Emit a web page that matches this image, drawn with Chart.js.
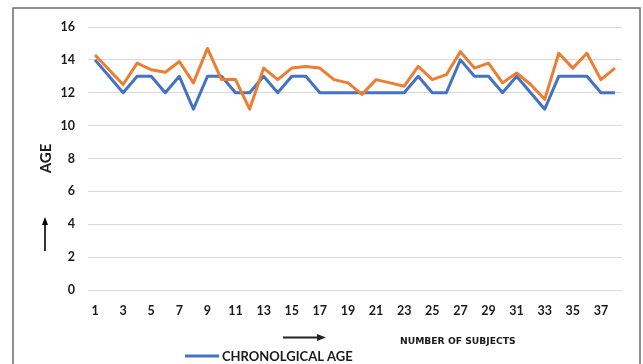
<!DOCTYPE html>
<html>
<head>
<meta charset="utf-8">
<script src="https://cdn.jsdelivr.net/npm/chart.js@4/dist/chart.umd.min.js"></script>
<style>
  html, body { margin: 0; padding: 0; background: #ffffff; overflow: hidden; }
  #wrap { position: absolute; left: 0; top: 0; width: 643px; height: 364px; }
</style>
</head>
<body>
<div id="wrap"><canvas id="c"></canvas></div>
<script>
// Subject numbers along the x axis
const subjects = Array.from({ length: 38 }, (_, i) => String(i + 1));

// Chronological age of each subject (years)
const chronologicalAge = [14, 13, 12, 13, 13, 12, 13, 11, 13, 13, 12, 12, 13, 12, 13, 13, 12, 12, 12,
                          12, 12, 12, 12, 13, 12, 12, 14, 13, 13, 12, 13, 12, 11, 13, 13, 13, 12, 12];

// Estimated age of each subject (years)
const estimatedAge = [14.3, 13.4, 12.5, 13.8, 13.4, 13.25, 13.9, 12.6, 14.7, 12.8, 12.8, 11.0, 13.5,
                      12.8, 13.5, 13.6, 13.5, 12.8, 12.6, 11.9, 12.8, 12.6, 12.4, 13.6, 12.8, 13.1,
                      14.5, 13.5, 13.8, 12.6, 13.2, 12.5, 11.6, 14.4, 13.5, 14.4, 12.8, 13.5];

// Y axis range
const yMin = 0, yMax = 16, yStep = 2;

const BLUE = '#4472C4';
const ORANGE = '#ED7D31';
const FONT = "Lato, 'Open Sans', sans-serif";

// Frame, axis arrows, axis caption and legend drawn over the chart
const decorations = {
  id: 'decorations',
  afterDraw(chart) {
    const ctx = chart.ctx;
    ctx.save();

    // outer frame
    ctx.strokeStyle = '#6b6b6b';
    ctx.lineWidth = 1.5;
    ctx.strokeRect(13, 8, 627, 400);

    ctx.fillStyle = '#000000';
    ctx.strokeStyle = '#000000';
    ctx.lineWidth = 1.6;

    // upward arrow next to the y title
    ctx.beginPath();
    ctx.moveTo(45, 251);
    ctx.lineTo(45, 224);
    ctx.stroke();
    ctx.beginPath();
    ctx.moveTo(45, 217);
    ctx.lineTo(42, 225);
    ctx.lineTo(48, 225);
    ctx.closePath();
    ctx.fill();

    // rightward arrow under the x axis
    ctx.strokeStyle = '#222222';
    ctx.fillStyle = '#222222';
    ctx.lineWidth = 2;
    ctx.beginPath();
    ctx.moveTo(283, 337.5);
    ctx.lineTo(318, 337.5);
    ctx.stroke();
    ctx.beginPath();
    ctx.moveTo(326, 337.5);
    ctx.lineTo(317, 334);
    ctx.lineTo(317, 341);
    ctx.closePath();
    ctx.fill();

    // x axis caption, slightly widened
    ctx.save();
    ctx.translate(400, 341.5);
    ctx.scale(1.15, 1);
    ctx.fillStyle = '#1a1a1a';
    ctx.font = "bold 8px 'DejaVu Sans', sans-serif";
    ctx.textBaseline = 'middle';
    ctx.textAlign = 'left';
    ctx.fillText('NUMBER OF SUBJECTS', 0, 0);
    ctx.restore();

    // legend entry for the first series
    const ds = chart.data.datasets[0];
    ctx.strokeStyle = ds.borderColor;
    ctx.lineWidth = 3;
    ctx.beginPath();
    ctx.moveTo(185, 356);
    ctx.lineTo(219, 356);
    ctx.stroke();
    ctx.fillStyle = '#1a1a1a';
    ctx.font = 'bold 13px ' + FONT;
    ctx.textBaseline = 'middle';
    ctx.textAlign = 'left';
    ctx.fillText(ds.label, 222, 356.5);

    ctx.restore();
  }
};

new Chart(document.getElementById('c'), {
  type: 'line',
  data: {
    labels: subjects,
    datasets: [
      {
        label: 'CHRONOLGICAL AGE',
        data: chronologicalAge,
        borderColor: BLUE,
        backgroundColor: BLUE,
        borderWidth: 3,
        pointRadius: 0,
        tension: 0,
        borderJoinStyle: 'round',
        order: 1
      },
      {
        label: 'ESTIMATED AGE',
        data: estimatedAge,
        borderColor: ORANGE,
        backgroundColor: ORANGE,
        borderWidth: 3,
        pointRadius: 0,
        tension: 0,
        borderJoinStyle: 'round',
        order: 0
      }
    ]
  },
  options: {
    responsive: true,
    maintainAspectRatio: false,
    animation: false,
    devicePixelRatio: 1,
    layout: { padding: { left: 0, right: 21, top: 27, bottom: 0 } },
    plugins: {
      legend: { display: false },
      tooltip: { enabled: false },
      title: { display: false }
    },
    scales: {
      x: {
        offset: true,
        grid: { display: false, drawTicks: false },
        border: { display: false },
        ticks: {
          autoSkip: false,
          maxRotation: 0,
          padding: 13,
          color: '#1a1a1a',
          font: { family: FONT, size: 12.5, weight: 'bold' },
          callback: (v, i) => (i % 2 === 0 ? subjects[i] : '')
        },
        afterFit: (s) => { s.height = 74; }
      },
      y: {
        min: yMin,
        max: yMax,
        grid: { color: '#d9d9d9', lineWidth: 1, drawTicks: false },
        border: { display: false },
        ticks: {
          stepSize: yStep,
          padding: 13,
          color: '#1a1a1a',
          font: { family: FONT, size: 12.5, weight: 'bold' }
        },
        title: {
          display: true,
          text: 'AGE',
          color: '#1a1a1a',
          font: { family: FONT, size: 15, weight: 'bold' },
          padding: { top: 37, bottom: 0 }
        },
        afterFit: (s) => { s.width = 88; }
      }
    }
  },
  plugins: [decorations]
});
</script>
</body>
</html>
